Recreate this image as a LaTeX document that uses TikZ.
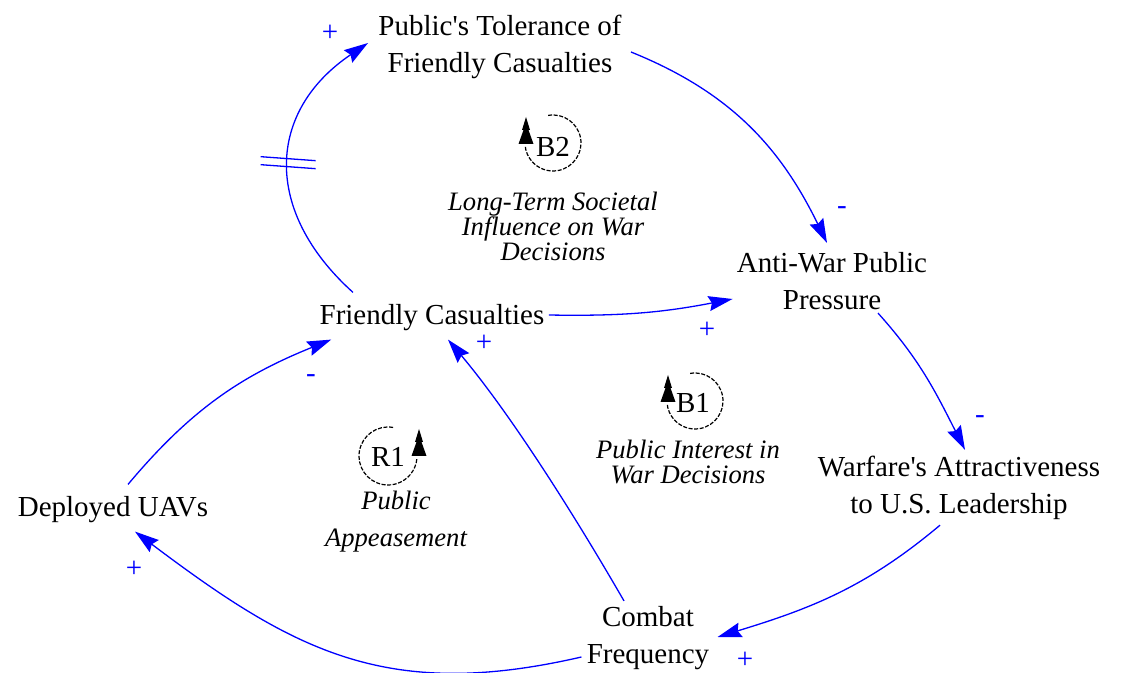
\documentclass[tikz,border=0pt]{standalone}
\usepackage{fontspec}
\setmainfont{Liberation Serif}
\usetikzlibrary{arrows.meta}

\begin{document}
\begin{tikzpicture}[x=0.5pt, y=0.5pt,
  var/.style={inner sep=2pt, align=center, font=\fontsize{14.5}{18.5}\selectfont},
  looptxt/.style={inner sep=1pt, align=center, font=\fontsize{13.3}{12.5}\selectfont\itshape},
  pol/.style={inner sep=0pt, text=blue, font=\fontsize{14.5}{17}\selectfont},
  link/.style={draw=blue, line width=0.65pt, -{Stealth[length=12pt, width=7.5pt, inset=1.5pt]}},
  loopring/.style={line width=0.6pt, dash pattern=on 2pt off 0.8pt},
  tree/.pic={\fill (0,0) -- (-4,-13) -- (-2.5,-13) -- (-7.5,-27) -- (7.5,-27) -- (2.5,-13) -- (4,-13) -- cycle;}]

        \useasboundingbox (0,0) rectangle (1125,-673);

        % variables
        \node[var] (tol) at (500,-47) {Public\textquotesingle s Tolerance of\\Friendly Casualties};
        \node[var] (anti) at (832,-281) {Anti-War Public\\Pressure};
        \node[var] (fc) at (432,-318) {Friendly Casualties};
        \node[var] (war) at (959,-488) {Warfare\textquotesingle s Attractiveness\\to U.S. Leadership};
        \node[var] (uav) at (113,-510) {Deployed UAVs};
        \node[var] (cf) at (648,-638) {Combat\\Frequency};

        % loops
        \node[var] (b2) at (553,-147) {B2};
        \draw[loopring] (553,-143) ++(100:28) arc[start angle=100, end angle=-175, radius=28];
        \pic at (526,-117) {tree};
        \node[looptxt] (b2txt) at (553,-226) {Long-Term Societal\\Influence on War\\Decisions};

        \node[var] (b1) at (693,-403) {B1};
        \draw[loopring] (695,-401) ++(100:28) arc[start angle=100, end angle=-175, radius=28];
        \pic at (668,-375) {tree};
        \node[looptxt] (b1txt) at (688,-462) {Public Interest in\\War Decisions};

        \node[var] (r1) at (388,-457) {R1};
        \draw[loopring] (388,-456) ++(80:29) arc[start angle=80, end angle=355, radius=29];
        \pic at (419,-429) {tree};
        \node[looptxt] (r1txt) at (396,-522) {Public\\[6pt]Appeasement};

        % links
        \path[link] ([shift={(-79,8)}]fc.north) to[out=138, in=214, looseness=1.25] coordinate[pos=0.5] (dly) ([shift={(-6,4)}]tol.west);
        \draw[blue, line width=0.65pt] ([shift={(-28,6)}]dly) -- ([shift={(27,2)}]dly) ([shift={(-28,-2)}]dly) -- ([shift={(27,-6)}]dly);
        \path[link] ([shift={(5,-5)}]tol.east) to[out=-22, in=116] ([shift={(-5,5)}]anti.north);
        \path[link] ([shift={(0,3)}]fc.east) to[bend right=6] ([shift={(0,-18)}]anti.west);
        \path[link] ([shift={(46,1)}]anti.south) to[out=-48, in=117] ([shift={(6,2)}]war.north);
        \path[link] ([shift={(-19,-1)}]war.south) to[out=-140, in=17] ([shift={(4,1)}]cf.east);
        \path[link] ([shift={(-1,-19)}]cf.west) to[out=193, in=-37, looseness=1.1] ([shift={(22,-4)}]uav.south);
        \path[link] ([shift={(15,8)}]uav.north) to[out=50, in=202] ([shift={(16,-4)}]fc.south west);
        \path[link] ([shift={(-24,1)}]cf.north) to[out=120, in=-50, looseness=0.8] ([shift={(16,-4)}]fc.south);

        % polarities
        \node[pol] (s1) at (330,-33) {+};
        \node[pol] (s2) at (842,-211) {-};
        \node[pol] (s3) at (707,-330) {+};
        \node[pol] (s4) at (980,-420) {-};
        \node[pol] (s5) at (745,-660) {+};
        \node[pol] (s6) at (134,-569) {+};
        \node[pol] (s7) at (311,-379) {-};
        \node[pol] (s8) at (484,-343) {+};
\end{tikzpicture}
\end{document}
